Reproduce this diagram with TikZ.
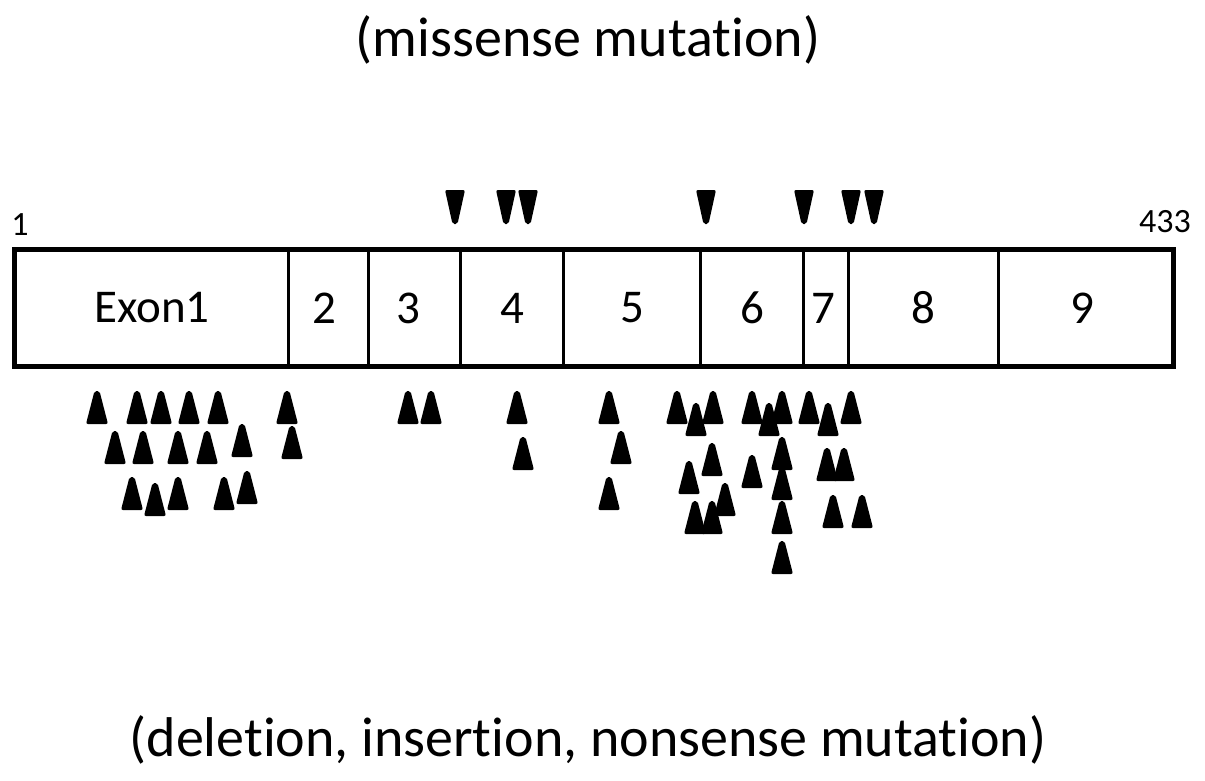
\documentclass[tikz,border=0pt]{standalone}
\usepackage{fontspec}
\setmainfont[Ligatures={NoCommon}]{Carlito}
\begin{document}
\begin{tikzpicture}[x=1pt,y=-1pt,
  exon/.style={draw,line width=3pt,minimum height=115pt,inner sep=0pt,anchor=north west,font=\fontsize{47}{47}\selectfont},
  title/.style={font=\fontsize{56}{56}\selectfont,inner sep=0pt},
  endlab/.style={font=\fontsize{34}{34}\selectfont,inner sep=0pt},
  mut/.style={fill=black,rounded corners=2pt}]
\useasboundingbox (0,0) rectangle (1205,780);
\node[title] (top) at (588,40) {(missense mutation)};
\node[title] (bottom) at (588,740) {(deletion, insertion, nonsense mutation)};
\node[endlab] (one) at (20,225) {1};
\node[endlab] (last) at (1165,222) {433};
\node[exon,minimum width=273pt] (e1) at (14,249) {Exon1};
\node[exon,minimum width=80pt] (e2) at (287,249) {\hspace*{-8pt}2};
\node[exon,minimum width=92pt] (e3) at (367,249) {\hspace*{-12pt}3};
\node[exon,minimum width=103pt] (e4) at (459,249) {4};
\node[exon,minimum width=137pt] (e5) at (562,249) {5};
\node[exon,minimum width=103pt] (e6) at (699,249) {6};
\node[exon,minimum width=45pt] (e7) at (802,249) {\hspace*{-6pt}7};
\node[exon,minimum width=150pt] (e8) at (847,249) {8};
\node[exon,minimum width=174pt] (e9) at (997,249) {\hspace*{-6pt}9};
\draw[line width=4pt] (e1.north west) rectangle (e9.south east);
% missense (down triangles)
\foreach \x in {455,506,528,706,804,851,874}
  \fill[mut] (\x-10,190) -- (\x+10,190) -- (\x+2.5,224) -- (\x-2.5,224) -- cycle;
% deletion/insertion/nonsense (up triangles), x / top
\foreach \x/\t in {97/391,137/391,161/391,189/391,218/391,287/391,
  115/431,143/431,178/431,207/431,242/424,292/426,
  132/477,155/483,178/477,224/477,247/471,
  408/391,431/391,517/391,523/437,609/391,621/431,609/477,
  677/391,696/403,713/391,752/391,769/403,782/391,809/391,828/403,851/391,
  712/443,689/461,752/455,782/437,782/467,827/448,844/448,
  725/483,695/501,712/501,782/501,833/495,862/495,782/541}
  \fill[mut] (\x-11,\t+33) -- (\x-2.5,\t) -- (\x+2.5,\t) -- (\x+11,\t+33) -- cycle;
\end{tikzpicture}
\end{document}
